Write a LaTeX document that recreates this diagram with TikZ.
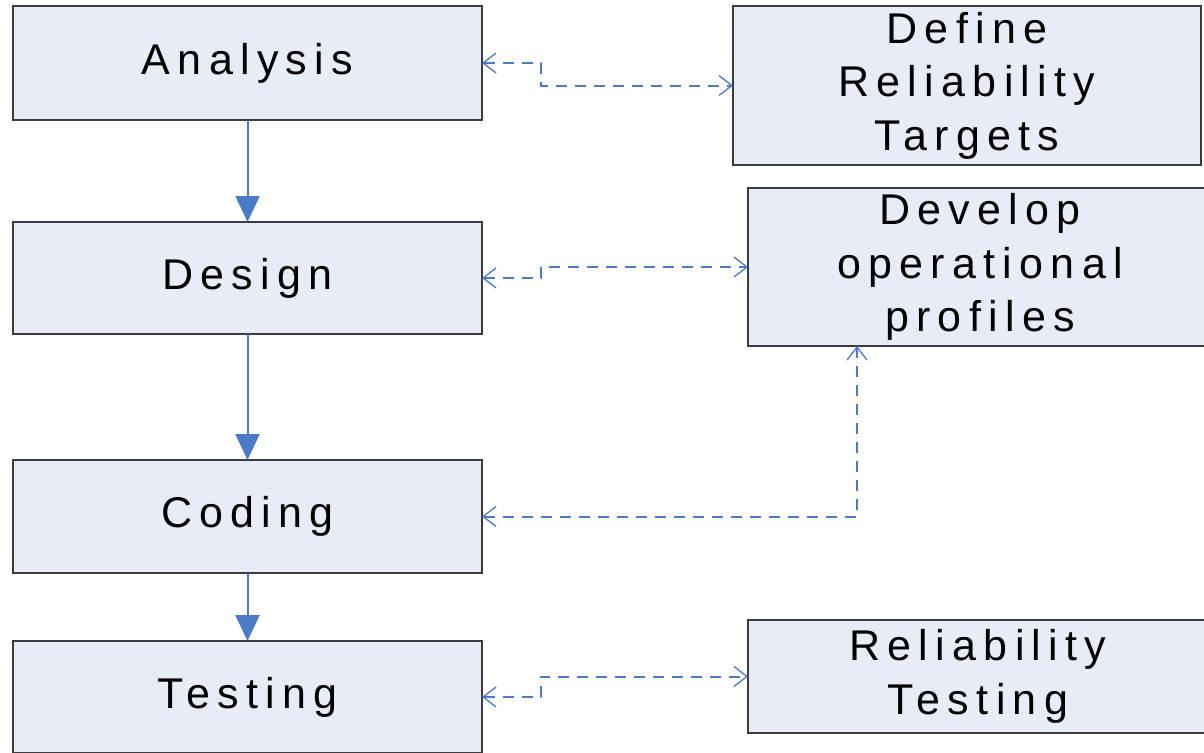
\documentclass[tikz,border=0pt]{standalone}
\usepackage{fontspec}
\newfontfamily\boxfont[LetterSpace=17]{Liberation Sans}
\usetikzlibrary{arrows.meta,calc}
\definecolor{boxfill}{RGB}{232,236,246}
\definecolor{boxline}{RGB}{60,60,60}
\definecolor{conblue}{RGB}{74,122,200}
\tikzset{
  box/.style={draw=boxline, fill=boxfill, line width=1.5pt, rectangle, inner sep=0pt, outer sep=0pt,
    anchor=north west, align=center, font=\boxfont\fontsize{43}{53.5}\selectfont},
  sarrow/.style={draw=conblue, line width=2pt, -{Triangle[width=24pt,length=26pt]}},
  dcon/.style={draw=conblue, line width=2pt, dash pattern=on 11pt off 8pt,
    {Straight Barb[width=20pt,length=13pt,line width=1.3pt]}-{Straight Barb[width=20pt,length=13pt,line width=1.3pt]}}
}
\begin{document}
\begin{tikzpicture}[x=1pt,y=-1pt]
\fill[white] (0,0) rectangle (1204,752);
\useasboundingbox (0,0) rectangle (1204,752);
\begin{scope}
\clip (0,0) rectangle (1204,752);
\node[box, minimum width=469pt, minimum height=114pt] (analysis) at (13,6) {Analysis};
\node[box, minimum width=469pt, minimum height=112pt] (design) at (13,222) {Design};
\node[box, minimum width=469pt, minimum height=113pt] (coding) at (13,460) {Coding};
\node[box, minimum width=469pt, minimum height=112pt] (testing) at (13,641) {Testing};
\node[box, minimum width=468pt, minimum height=159pt] (define) at (733,6) {Define\\Reliability\\Targets};
\node[box, minimum width=464pt, minimum height=158pt] (develop) at (748,188) {Develop\\operational\\profiles};
\node[box, minimum width=460pt, minimum height=113pt] (reltest) at (748,620) {Reliability\\Testing};

\draw[sarrow] (analysis.south) -- (design.north);
\draw[sarrow] (design.south) -- (coding.north);
\draw[sarrow] (coding.south) -- (testing.north);

\draw[dcon] (analysis.east) -- ++(59,0) |- (define.west);
\draw[dcon] (design.east) -- ++(59,0) |- (develop.west);
\draw[dcon] (coding.east) -| ($(develop.south west)+(109,0)$);
\draw[dcon] (testing.east) -- ++(59,0) |- (reltest.west);
\end{scope}
\end{tikzpicture}
\end{document}
